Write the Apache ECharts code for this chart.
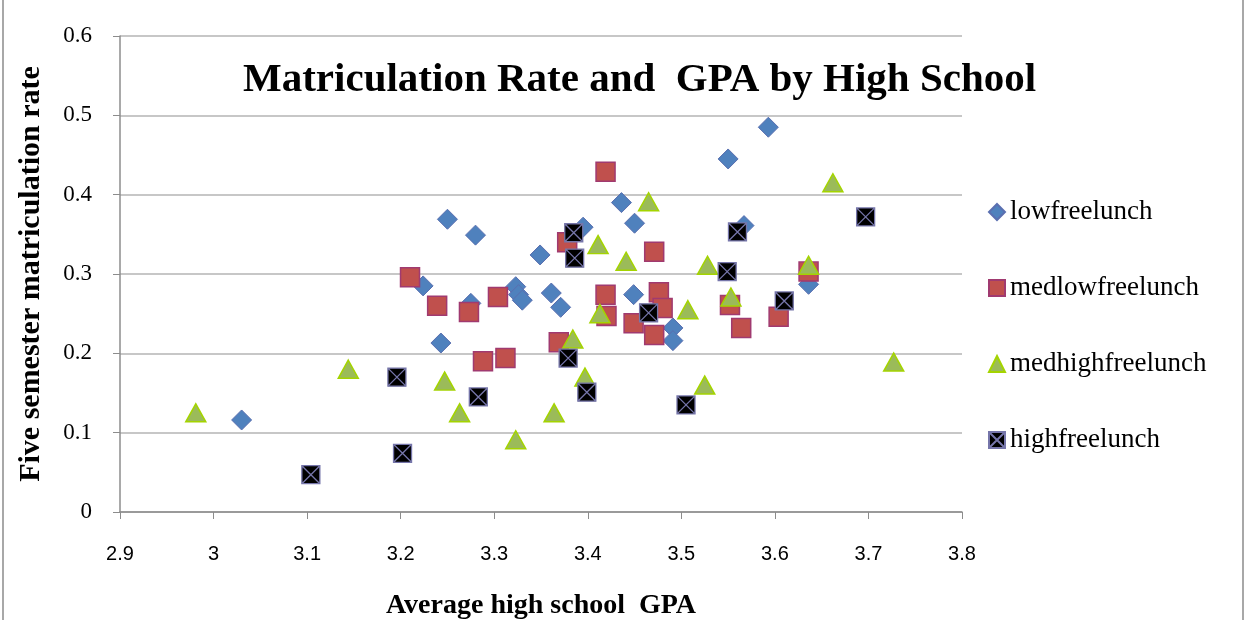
<!DOCTYPE html>
<html>
<head>
<meta charset="utf-8">
<title>Matriculation Rate and GPA by High School</title>
<script src="https://cdn.jsdelivr.net/npm/echarts@6/dist/echarts.min.js"></script>
<style>
  html, body { margin: 0; padding: 0; background: #fff; }
  #main { width: 1249px; height: 620px; }
</style>
</head>
<body>
<div id="main"></div>
<script type="text/javascript">
// [gpa, rate] per school
var lowFree = [
  [3.030, 0.116], [3.250, 0.369], [3.280, 0.349], [3.224, 0.285], [3.243, 0.213],
  [3.275, 0.263], [3.323, 0.284], [3.326, 0.274], [3.330, 0.267], [3.349, 0.324],
  [3.361, 0.276], [3.371, 0.258], [3.395, 0.359], [3.436, 0.390], [3.450, 0.364],
  [3.449, 0.274], [3.491, 0.232], [3.491, 0.216], [3.550, 0.445], [3.593, 0.485],
  [3.567, 0.361], [3.636, 0.287]
];
var medLowFree = [
  [3.210, 0.296], [3.239, 0.260], [3.273, 0.252], [3.304, 0.271], [3.288, 0.190],
  [3.312, 0.194], [3.369, 0.214], [3.378, 0.340], [3.419, 0.429], [3.471, 0.328],
  [3.419, 0.274], [3.420, 0.247], [3.449, 0.238], [3.476, 0.277], [3.480, 0.257],
  [3.471, 0.223], [3.552, 0.261], [3.564, 0.232], [3.604, 0.246], [3.636, 0.303]
];
var medHighFree = [
  [2.981, 0.125], [3.144, 0.180], [3.247, 0.165], [3.263, 0.125], [3.323, 0.091],
  [3.364, 0.125], [3.384, 0.218], [3.397, 0.170], [3.411, 0.337], [3.441, 0.316],
  [3.465, 0.391], [3.413, 0.250], [3.507, 0.255], [3.528, 0.311], [3.553, 0.271],
  [3.525, 0.160], [3.636, 0.311], [3.662, 0.415], [3.727, 0.189]
];
var highFree = [
  [3.104, 0.047], [3.196, 0.170], [3.202, 0.074], [3.283, 0.145], [3.379, 0.194],
  [3.385, 0.352], [3.386, 0.320], [3.399, 0.151], [3.465, 0.251], [3.505, 0.135],
  [3.549, 0.303], [3.560, 0.353], [3.610, 0.266], [3.697, 0.372]
];
var seriesNames = ['lowfreelunch', 'medlowfreelunch', 'medhighfreelunch', 'highfreelunch'];

var serif = '"Liberation Serif", "DejaVu Serif", serif';
var myChart = echarts.init(document.getElementById('main'));

var option = {
  backgroundColor: '#fff',
  animation: false,
  title: {
    text: 'Matriculation Rate and  GPA by High School',
    left: 238,
    top: 55,
    textStyle: { fontFamily: serif, fontWeight: 'bold', fontSize: 41, color: '#000' }
  },
  legend: {
    orient: 'vertical',
    left: 983,
    top: 193,
    itemGap: 48,
    itemWidth: 16,
    itemHeight: 16,
    data: seriesNames,
    textStyle: { fontFamily: serif, fontSize: 27, lineHeight: 28, color: '#000' }
  },
  grid: { left: 120, right: 287, top: 36, bottom: 108, outerBoundsMode: 'none', containLabel: false },
  xAxis: {
    type: 'value',
    min: 2.9,
    max: 3.8,
    interval: 0.1,
    name: 'Average high school  GPA',
    nameLocation: 'middle',
    nameGap: 80,
    nameTextStyle: { fontFamily: serif, fontWeight: 'bold', fontSize: 28, color: '#000' },
    axisLine: { show: true, lineStyle: { color: '#8c8c8c', width: 1.5 } },
    axisTick: { show: true, length: 7, lineStyle: { color: '#8c8c8c' } },
    axisLabel: { margin: 32, fontFamily: '"Liberation Sans Narrow", "Liberation Sans", sans-serif', fontSize: 20, color: '#000' },
    splitLine: { show: false }
  },
  yAxis: {
    type: 'value',
    min: 0,
    max: 0.6,
    interval: 0.1,
    name: 'Five semester matriculation rate',
    nameLocation: 'middle',
    nameGap: 74,
    nameTextStyle: { fontFamily: serif, fontWeight: 'bold', fontSize: 30, color: '#000' },
    axisLine: { show: true, lineStyle: { color: '#8c8c8c', width: 1.5 } },
    axisTick: { show: true, length: 7, lineStyle: { color: '#8c8c8c' } },
    axisLabel: { margin: 28, fontFamily: serif, fontSize: 23, color: '#000' },
    splitLine: { show: true, lineStyle: { color: '#b4b4b4', width: 1.5 } }
  },
  series: [
    {
      name: 'lowfreelunch',
      type: 'scatter',
      symbol: 'diamond',
      symbolSize: 20,
      data: lowFree,
      itemStyle: { color: '#4f81bd', borderColor: '#5a6fb0', borderWidth: 1, opacity: 1 }
    },
    {
      name: 'medlowfreelunch',
      type: 'scatter',
      symbol: 'rect',
      symbolSize: 19,
      data: medLowFree,
      itemStyle: { color: '#c0504d', borderColor: '#a03a70', borderWidth: 1.5, opacity: 1 }
    },
    {
      name: 'medhighfreelunch',
      type: 'scatter',
      symbol: 'triangle',
      symbolSize: [20, 18],
      data: medHighFree,
      itemStyle: { color: '#9bbb59', borderColor: '#a4d400', borderWidth: 1.5, opacity: 1 }
    },
    {
      name: 'highfreelunch',
      type: 'scatter',
      symbol: 'path://M0,0 L20,0 L20,20 L0,20 Z M0,0 L20,20 M20,0 L0,20',
      symbolSize: 18,
      data: highFree,
      itemStyle: { color: '#000', borderColor: '#7676aa', borderWidth: 1.3, opacity: 1 }
    }
  ],
  graphic: [
    { type: 'line', shape: { x1: 3, y1: 0, x2: 3, y2: 620 }, style: { stroke: '#a8a8a8', lineWidth: 2 } },
    { type: 'line', shape: { x1: 1243, y1: 0, x2: 1243, y2: 620 }, style: { stroke: '#a8a8a8', lineWidth: 2 } }
  ]
};
myChart.setOption(option);
</script>
</body>
</html>
